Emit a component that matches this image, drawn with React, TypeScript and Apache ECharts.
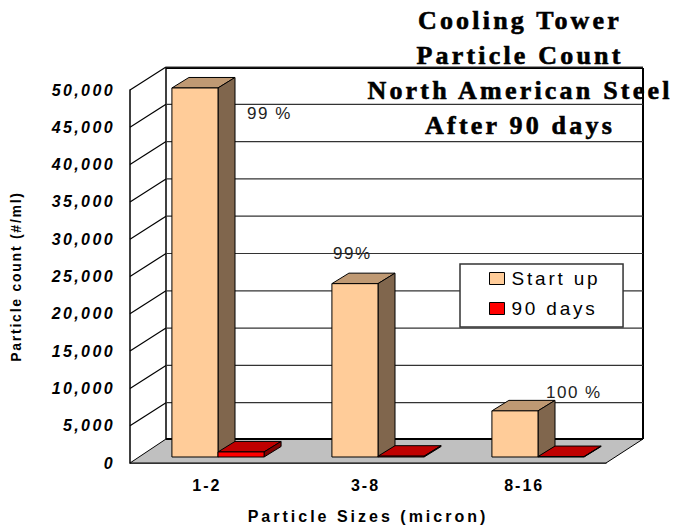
import React, { useEffect, useRef } from "react";
import * as echarts from "echarts";

const categories = ["1-2", "3-8", "8-16"];
const startUp = [49600, 23300, 6200];
const days90 = [680, 110, 60];
const yTicks = [5000, 10000, 15000, 20000, 25000, 30000, 35000, 40000, 45000, 50000];
const titleLines = ["Cooling Tower", "Particle Count", "North American Steel", "After 90 days"];
const notes = [
  { text: "99 %", x: 247, y: 113 },
  { text: "99%", x: 333, y: 253 },
  { text: "100 %", x: 546, y: 392 },
];

const WALL_DX = 36;
const WALL_DY = -24;
const BAR_DX = 17;
const BAR_DY = -10.5;
const SANS = "'Liberation Sans', Arial, sans-serif";
const SERIF = "'Liberation Serif', 'Times New Roman', serif";

function box(
  x0: number, x1: number, yTop: number, yBase: number,
  front: string, top: string, side: string
) {
  const stroke = { stroke: "#000", lineWidth: 1 };
  return {
    type: "group",
    children: [
      { type: "polygon", shape: { points: [[x0, yTop], [x0 + BAR_DX, yTop + BAR_DY], [x1 + BAR_DX, yTop + BAR_DY], [x1, yTop]] }, style: { fill: top, ...stroke } },
      { type: "polygon", shape: { points: [[x1, yTop], [x1 + BAR_DX, yTop + BAR_DY], [x1 + BAR_DX, yBase + BAR_DY], [x1, yBase]] }, style: { fill: side, ...stroke } },
      { type: "rect", shape: { x: x0, y: yTop, width: x1 - x0, height: yBase - yTop }, style: { fill: front, ...stroke } },
    ],
  };
}

function barRenderer(side: "left" | "right", front: string, top: string, flank: string) {
  return (_: any, api: any) => {
    const c = api.value(0);
    const v = api.value(1);
    const base = api.coord([c, 0]);
    const head = api.coord([c, v]);
    const w = api.size([1, 0])[0] * 0.288;
    const x0 = side === "left" ? base[0] - w : base[0];
    return box(x0, x0 + w, head[1], base[1], front, top, flank);
  };
}

const option: any = {
  animation: false,
  backgroundColor: "#fff",
  title: {
    text: titleLines.join("\n"),
    left: 515,
    top: -2,
    textAlign: "center",
    textStyle: {
      fontFamily: SERIF,
      fontWeight: "bold",
      fontSize: 26,
      lineHeight: 35,
      color: "#000",
      textBorderColor: "#000",
      textBorderWidth: 0.6,
    },
    z: 20,
  },
  legend: {
    orient: "vertical",
    left: 460,
    top: 264,
    padding: [5, 45, 9, 29],
    itemGap: 11,
    itemWidth: 15,
    itemHeight: 12,
    backgroundColor: "#fff",
    borderColor: "#333",
    borderWidth: 1.5,
    borderRadius: 0,
    textStyle: { fontFamily: SANS, fontSize: 19, color: "#000", padding: [0, 0, 0, 2] },
    data: [
      { name: "Start up", icon: "rect", itemStyle: { color: "#FFCC99", borderColor: "#000", borderWidth: 1 } },
      { name: "90 days", icon: "rect", itemStyle: { color: "#FF0000", borderColor: "#000", borderWidth: 1 } },
    ],
    selectedMode: false,
  },
  grid: [
    { left: 130, top: 90, width: 476, height: 373, outerBoundsMode: "none" },
    { left: 138, top: 85, width: 480, height: 372, outerBoundsMode: "none" },
  ],
  xAxis: [
    {
      type: "category",
      gridIndex: 0,
      data: categories,
      name: "Particle Sizes (micron)",
      nameLocation: "middle",
      nameGap: 45,
      nameTextStyle: { fontFamily: SANS, fontWeight: "bold", fontSize: 16, color: "#000" },
      axisLine: { lineStyle: { color: "#333", width: 1.5 } },
      axisTick: { length: 8, lineStyle: { color: "#333", width: 1 } },
      axisLabel: { margin: 14, padding: [0, 5, 0, 0], fontFamily: SANS, fontWeight: "bold", fontSize: 16, color: "#000" },
      splitLine: { show: false },
    },
    { type: "category", gridIndex: 1, data: categories, show: false },
  ],
  yAxis: [
    {
      type: "value",
      gridIndex: 0,
      min: 0,
      max: 50000,
      interval: 5000,
      name: "Particle count (#/ml)",
      nameLocation: "middle",
      nameRotate: 90,
      nameGap: 107,
      nameTextStyle: { fontFamily: SANS, fontWeight: "bold", fontSize: 14, color: "#000" },
      axisLine: { show: true, lineStyle: { color: "#000", width: 1.5 } },
      axisTick: { show: false },
      splitLine: { show: false },
      axisLabel: {
        margin: 15,
        fontFamily: SANS,
        fontWeight: "bold",
        fontStyle: "italic",
        fontSize: 16,
        color: "#000",
        formatter: (v: number) => v.toLocaleString("en-US"),
      },
    },
    { type: "value", gridIndex: 1, min: 0, max: 50000, interval: 5000, show: false },
  ],
  graphic: notes.map((n) => ({
    type: "text",
    x: n.x,
    y: n.y,
    z: 10,
    style: { text: n.text, fontFamily: SANS, fontSize: 17, fill: "#222", verticalAlign: "middle" },
  })),
  series: [
    {
      id: "floor",
      type: "custom",
      xAxisIndex: 0,
      yAxisIndex: 0,
      silent: true,
      z: 1,
      data: [[0, 0]],
      encode: { x: 0, y: 1 },
      renderItem: (p: any, api: any) => {
        const { x, y, width, height } = p.coordSys;
        const bottom = y + height;
        const backX = x + WALL_DX;
        const backR = x + width + WALL_DX + 1;
        const backB = bottom + WALL_DY;
        const backT = y - 22;
        const black = (w: number) => ({ stroke: "#000", lineWidth: w, fill: "none" });
        return {
          type: "group",
          children: [
            { type: "polygon", shape: { points: [[x, bottom], [backX, backB], [backR, backB], [x + width, bottom]] }, style: { fill: "#C0C0C0", stroke: "#000", lineWidth: 1 } },
            { type: "line", shape: { x1: backX, y1: backB, x2: backR, y2: backB }, style: black(2) },
            { type: "line", shape: { x1: backX, y1: backT, x2: backR, y2: backT }, style: black(2) },
            { type: "line", shape: { x1: backX, y1: backT, x2: backX, y2: backB }, style: black(1.5) },
            { type: "line", shape: { x1: backR, y1: backT, x2: backR, y2: backB }, style: black(2) },
          ],
        };
      },
    },
    {
      id: "gridlines",
      type: "custom",
      xAxisIndex: 0,
      yAxisIndex: 0,
      silent: true,
      z: 1,
      data: yTicks.map((t) => [0, t]),
      encode: { x: 0, y: 1 },
      renderItem: (p: any, api: any) => {
        const { x, width } = p.coordSys;
        const yy = api.coord([0, api.value(1)])[1];
        const yb = yy - 23;
        return {
          type: "group",
          children: [
            { type: "line", shape: { x1: x, y1: yy, x2: x + WALL_DX, y2: yb }, style: { stroke: "#000", lineWidth: 1.2 } },
            { type: "line", shape: { x1: x + WALL_DX, y1: yb, x2: x + width + WALL_DX + 1, y2: yb }, style: { stroke: "#333", lineWidth: 1.2 } },
          ],
        };
      },
    },
    {
      name: "Start up",
      type: "custom",
      xAxisIndex: 1,
      yAxisIndex: 1,
      z: 3,
      itemStyle: { color: "#FFCC99" },
      data: startUp.map((v, i) => [i, v]),
      encode: { x: 0, y: 1 },
      renderItem: barRenderer("left", "#FFCC99", "#BF9973", "#80664D"),
    },
    {
      name: "90 days",
      type: "custom",
      xAxisIndex: 1,
      yAxisIndex: 1,
      z: 4,
      itemStyle: { color: "#FF0000" },
      data: days90.map((v, i) => [i, v]),
      encode: { x: 0, y: 1 },
      renderItem: barRenderer("right", "#FF0000", "#BF0000", "#800000"),
    },
  ],
};

function spaceTexts(root: HTMLElement) {
  root.querySelectorAll("text").forEach((el) => {
    const font = el.getAttribute("style") || "";
    const t = el.textContent || "";
    let spacing: number;
    if (font.includes("Serif")) spacing = 3.2;
    else if (notes.some((n) => n.text === t)) spacing = 1.5;
    else if (font.includes("italic")) spacing = 2.4;
    else if (t === "Start up" || t === "90 days") spacing = 2.8;
    else if (t === "Particle Sizes (micron)") spacing = 3;
    else if (t === "Particle count (#/ml)") spacing = 1.75;
    else spacing = 2;
    (el as SVGTextElement).style.letterSpacing = spacing + "px";
  });
}

export default function App() {
  const ref = useRef<HTMLDivElement>(null);
  useEffect(() => {
    if (!ref.current) return;
    const chart = echarts.init(ref.current, undefined, { renderer: "svg" });
    chart.setOption(option);
    spaceTexts(ref.current);
    return () => chart.dispose();
  }, []);
  return <div ref={ref} style={{ position: "absolute", left: 0, top: 0, width: 673, height: 527 }} />;
}
